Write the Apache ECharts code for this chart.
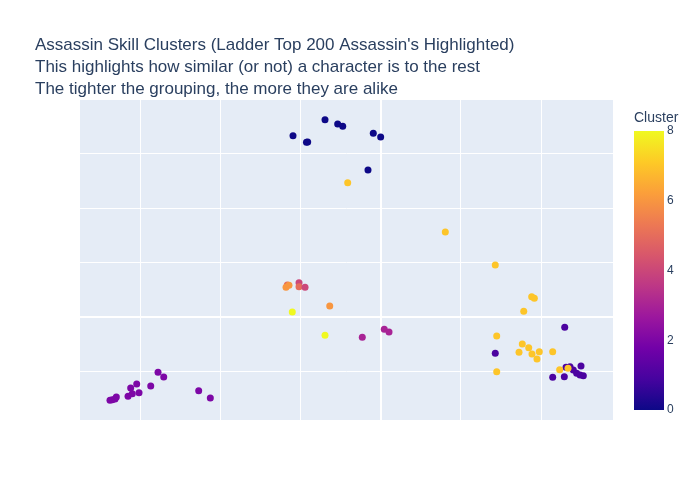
<!DOCTYPE html>
<html>
<head>
<meta charset="utf-8">
<script src="https://cdn.jsdelivr.net/npm/echarts@6/dist/echarts.min.js"></script>
<style>
  html, body { margin: 0; padding: 0; background: #fff; }
  #main { width: 700px; height: 500px; }
</style>
</head>
<body>
<div id="main"></div>
<script>
// cluster embedding, one entry per character
const xVals = [
  -1.091, -0.923, -0.908, -0.692, -0.534, -0.471, -0.090, 0.002, -0.156,
  -3.373, -3.344, -3.310, -3.294, -3.148, -3.095, -3.115, -3.040, -3.011, -2.865, -2.774, -2.703, -2.267, -2.122,
  -0.227, 0.047, 0.106,
  -1.162, -1.178, -1.141, -1.016, -1.016, -0.941, -0.633,
  -1.100, -0.692,
  2.297, 1.431, 2.147, 2.292, 2.500, 2.313, 2.363, 2.404, 2.446, 2.488, 2.529,
  -0.409, 0.808, 1.431, 1.885, 1.918, 1.786, 1.449, 1.768, 1.848, 1.727, 1.889, 1.980, 1.951, 2.147, 1.449, 2.234, 2.338
];
const yVals = [
  3.323, 3.202, 3.207, 3.617, 3.538, 3.495, 3.367, 3.299, 2.693,
  -1.532, -1.521, -1.508, -1.472, -1.459, -1.411, -1.306, -1.233, -1.393, -1.270, -1.018, -1.105, -1.356, -1.490,
  -0.376, -0.229, -0.279,
  0.583, 0.541, 0.578, 0.626, 0.552, 0.541, 0.198,
  0.088, -0.339,
  -0.193, -0.670, -1.110, -1.099, -0.903, -0.927, -0.916, -0.976, -1.037, -1.068, -1.081,
  2.461, 1.556, 0.950, 0.369, 0.339, 0.101, -0.352, -0.499, -0.567, -0.651, -0.683, -0.640, -0.774, -0.640, -1.007, -0.971, -0.945
];
const clusters = [
  0, 0, 0, 0, 0, 0, 0, 0, 0,
  2, 2, 2, 2, 2, 2, 2, 2, 2, 2, 2, 2, 2, 2,
  3, 3, 3,
  5, 6, 6, 4, 5, 4, 6,
  8, 8,
  1, 1, 1, 1, 1, 1, 1, 1, 1, 1, 1,
  7, 7, 7, 7, 7, 7, 7, 7, 7, 7, 7, 7, 7, 7, 7, 7, 7
];

const xTicks = [-3, -2, -1, 0, 1, 2];
const yTicks = [-1, 0, 1, 2, 3];
const xRange = [-3.747, 2.899];
const yRange = [-1.894, 3.978];

const cbRange = [0, 8];
const cbStep = 2;

const plasma = ['#0d0887', '#46039f', '#7201a8', '#9c179e', '#bd3786',
                '#d8576b', '#ed7953', '#fb9f3a', '#fdca26', '#f0f921'];

const titleLines = [
  "Assassin Skill Clusters (Ladder Top 200 Assassin's Highlighted)",
  'This highlights how similar (or not) a character is to the rest',
  'The tighter the grouping, the more they are alike'
];

const points = xVals.map((x, i) => [x, yVals[i], clusters[i]]);

// gridlines drawn as marklines so they sit on the round values
function gridLines(ticks, key) {
  return ticks.map(t => {
    let item = {};
    item[key] = t;
    if (t === 0) item.lineStyle = { width: 2 };
    return item;
  });
}

const chart = echarts.init(document.getElementById('main'));
const font = '"Liberation Sans", Arial, sans-serif';
chart.setOption({
  animation: false,
  textStyle: { fontFamily: font },
  title: [{
    text: titleLines.join('\n'),
    left: 35, top: 35, padding: 0,
    textStyle: { fontSize: 17, fontWeight: 'normal', color: '#2a3f5f', lineHeight: 21.6, fontFamily: font }
  }, {
    text: 'Cluster',
    left: 634, top: 111, padding: 0,
    textStyle: { fontSize: 14, fontWeight: 'normal', color: '#2a3f5f', fontFamily: font }
  }],
  grid: [
    { left: 80, top: 100, width: 533, height: 320, show: true, backgroundColor: '#E5ECF6', borderWidth: 0 },
    { left: 634, top: 131, width: 30, height: 279, show: false }
  ],
  xAxis: [{
    type: 'value', gridIndex: 0, min: xRange[0], max: xRange[1],
    axisLine: { show: false }, axisTick: { show: false }, axisLabel: { show: false }, splitLine: { show: false }
  }, {
    type: 'category', gridIndex: 1, data: ['c'], show: false
  }],
  yAxis: [{
    type: 'value', gridIndex: 0, min: yRange[0], max: yRange[1],
    axisLine: { show: false }, axisTick: { show: false }, axisLabel: { show: false }, splitLine: { show: false }
  }, {
    type: 'value', gridIndex: 1, min: cbRange[0], max: cbRange[1], interval: cbStep, position: 'right',
    axisLine: { show: false }, axisTick: { show: false }, splitLine: { show: false },
    axisLabel: { margin: 3, color: '#2a3f5f', fontSize: 12, fontFamily: font }
  }],
  visualMap: {
    type: 'continuous', show: false, min: cbRange[0], max: cbRange[1],
    dimension: 2, seriesIndex: 1, inRange: { color: plasma }
  },
  series: [{
    type: 'scatter', xAxisIndex: 0, yAxisIndex: 0, data: [], z: 1, silent: true,
    markLine: {
      z: 1, silent: true, symbol: ['none', 'none'], label: { show: false },
      lineStyle: { color: '#ffffff', width: 1, type: 'solid' },
      emphasis: { disabled: true },
      data: gridLines(xTicks, 'xAxis').concat(gridLines(yTicks, 'yAxis'))
    }
  }, {
    type: 'scatter', xAxisIndex: 0, yAxisIndex: 0, z: 10,
    symbolSize: 7, itemStyle: { opacity: 1 },
    data: points
  }, {
    type: 'bar', xAxisIndex: 1, yAxisIndex: 1, barWidth: '100%', silent: true,
    data: [cbRange[1]],
    itemStyle: {
      color: new echarts.graphic.LinearGradient(0, 1, 0, 0,
        plasma.map((c, i) => ({ offset: i / (plasma.length - 1), color: c })))
    }
  }]
});
</script>
</body>
</html>
